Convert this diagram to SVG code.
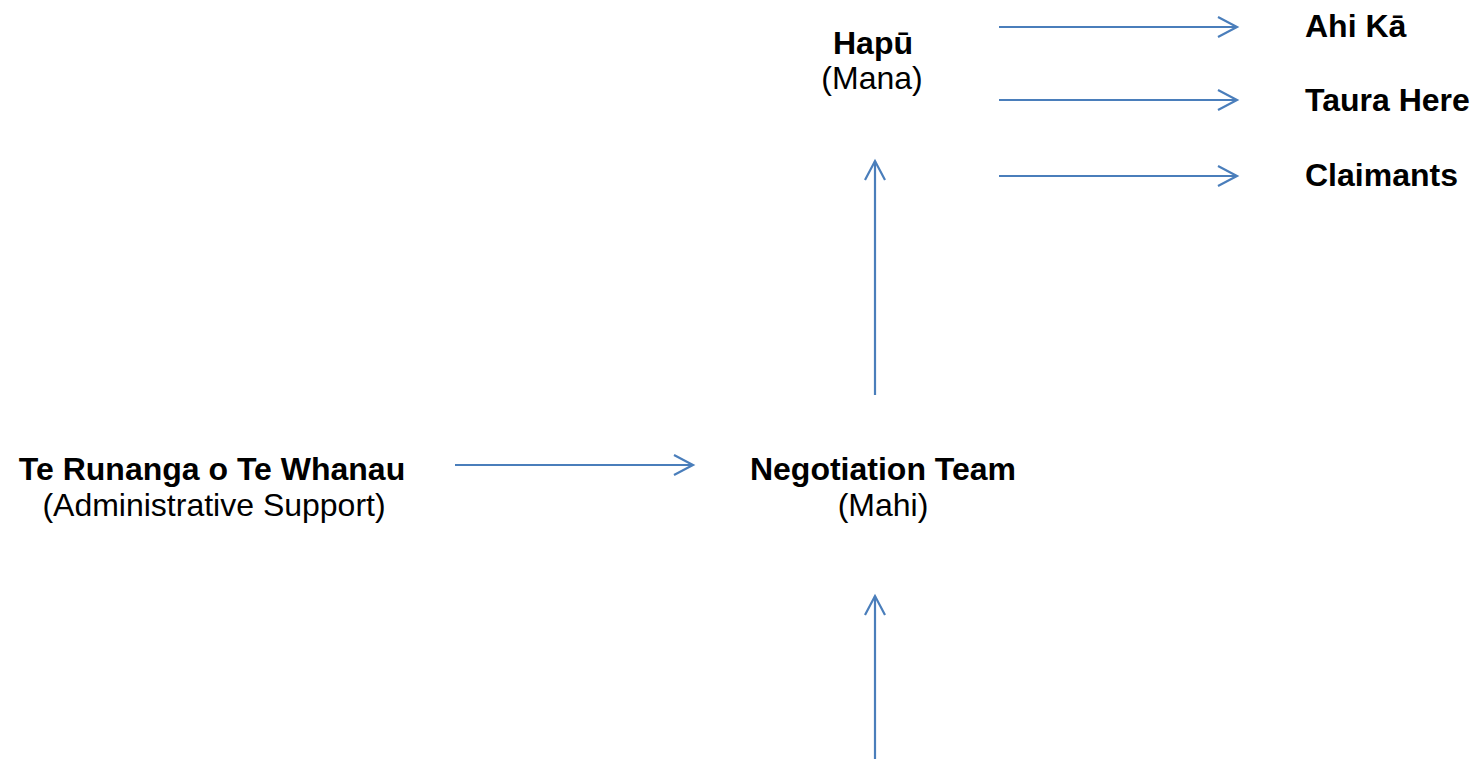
<svg xmlns="http://www.w3.org/2000/svg" width="1477" height="759" viewBox="0 0 1477 759">
<style>
.b{font-family:"Liberation Sans",Arial,sans-serif;font-weight:bold;font-size:32px;fill:#000}
.r{font-family:"Liberation Sans",Arial,sans-serif;font-size:32px;fill:#000}
.c{stroke:#4A7EBB;stroke-width:2.2;fill:none}
</style>
<defs>
<marker id="ah" markerUnits="userSpaceOnUse" markerWidth="30" markerHeight="30" viewBox="-25 -15 30 30" refX="0" refY="0" orient="auto">
<path d="M-19,-10 L0,0 L-19,10" fill="none" stroke="#4A7EBB" stroke-width="2.2"/>
</marker>
</defs>
<rect width="1477" height="759" fill="#fff"/>
<g id="hapu"><text class="b" x="873" y="54" text-anchor="middle">Hapū</text><text class="r" x="872" y="89" text-anchor="middle">(Mana)</text></g>
<g id="ahika"><text class="b" x="1305" y="37">Ahi Kā</text></g>
<g id="taurahere"><text class="b" x="1305" y="111">Taura Here</text></g>
<g id="claimants"><text class="b" x="1305" y="186">Claimants</text></g>
<g id="terunanga"><text class="b" x="212" y="480" text-anchor="middle">Te Runanga o Te Whanau</text><text class="r" x="214" y="516" text-anchor="middle">(Administrative Support)</text></g>
<g id="negotiation"><text class="b" x="883" y="480" text-anchor="middle">Negotiation Team</text><text class="r" x="883" y="516" text-anchor="middle">(Mahi)</text></g>
<g id="connectors">
<line class="c" x1="999" y1="27" x2="1237" y2="27" marker-end="url(#ah)"/>
<line class="c" x1="999" y1="100" x2="1237" y2="100" marker-end="url(#ah)"/>
<line class="c" x1="999" y1="176" x2="1237" y2="176" marker-end="url(#ah)"/>
<line class="c" x1="455" y1="465" x2="693" y2="465" marker-end="url(#ah)"/>
<line class="c" x1="875" y1="395" x2="875" y2="161" marker-end="url(#ah)"/>
<line class="c" x1="875" y1="759" x2="875" y2="596" marker-end="url(#ah)"/>
</g>
</svg>
